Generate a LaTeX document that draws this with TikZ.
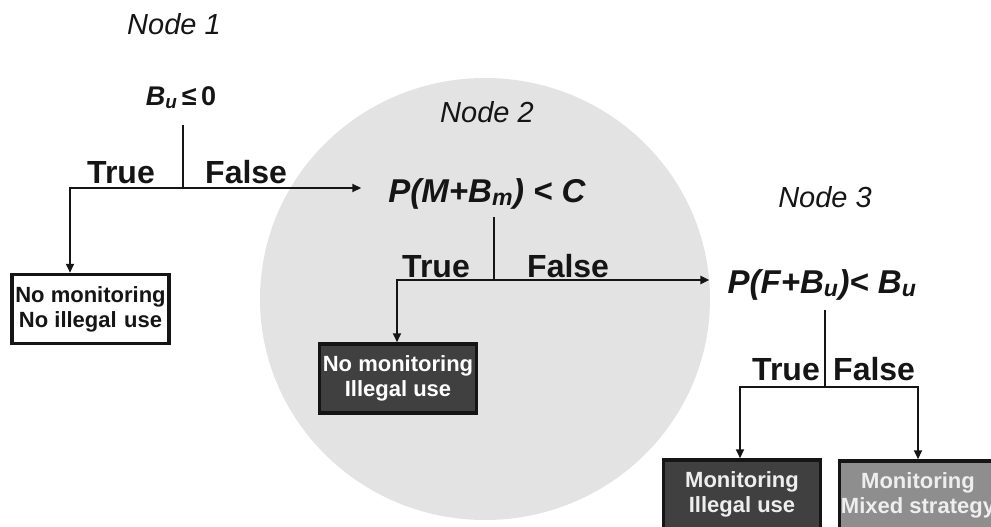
\documentclass[tikz,border=0pt]{standalone}
\usepackage{fontspec}
\setmainfont{Liberation Sans}
\usetikzlibrary{arrows.meta,calc}
\definecolor{circgray}{HTML}{E3E3E3}
\definecolor{darkbox}{HTML}{404040}
\definecolor{midbox}{HTML}{8E8E8E}
\definecolor{lighttext}{HTML}{EEEEEE}
\definecolor{inkblack}{HTML}{151515}
\begin{document}
\begin{tikzpicture}[x=1pt,y=-1pt,
  conn/.style={line width=2pt, draw=inkblack},
  arr/.style={conn, -{Triangle[length=9pt,width=8pt]}},
  cond/.style={font=\fontsize{33}{38}\selectfont\bfseries\itshape, text=inkblack, inner sep=0pt, anchor=base},
  nodelabel/.style={font=\fontsize{29}{34}\selectfont\itshape, text=inkblack, anchor=base, inner sep=0pt},
  tf/.style={font=\fontsize{32}{36}\selectfont\bfseries, text=inkblack, inner sep=0pt},
  outcome/.style={draw=inkblack, line width=3.5pt, minimum width=157pt, minimum height=69pt,
    align=center, font=\fontsize{22}{25}\selectfont\bfseries, inner sep=0pt},
]
\useasboundingbox (0,0) rectangle (991,527);
\clip (0,0) rectangle (991,527);
\fill[circgray] (485,299) ellipse [x radius=225pt, y radius=221pt];

% node labels
\node[nodelabel] (n1) at (174,35) {Node 1};
\node[nodelabel] (n2) at (487,122) {Node 2};
\node[nodelabel] (n3) at (825,207) {Node 3};

% conditions
\node[cond, font=\fontsize{27}{32}\selectfont\bfseries] (c1) at (181,105) {\textit{B}\textsubscript{\textit{u}}\,≤\,0};
\node[cond] (c2) at (487,202) {P(M+B\textsubscript{m}) < C};
\node[cond] (c3) at (822,293) {P(F+B\textsubscript{u})< B\textsubscript{u}};

% outcomes
\node[outcome, fill=white, text=inkblack] (b1) at (90.5,309) {No monitoring\\No illegal\,\,use};
\node[outcome, fill=darkbox, text=white] (b2) at (398,378.5) {No monitoring\\Illegal use};
\node[outcome, fill=darkbox, text=lighttext] (b3) at (742,494.5) {Monitoring\\Illegal use};
\node[outcome, fill=midbox, text=lighttext] (b4) at (918,495.5) {Monitoring\\Mixed strategy};

% junctions
\coordinate (s1) at (183,125);
\coordinate (j1) at (183,188);
\coordinate (k1) at (70,188);
\coordinate (s2) at (494,217);
\coordinate (j2) at (494,280);
\coordinate (k2) at (397,280);
\coordinate (s3) at (825,310);
\coordinate (j3) at (825,387);
\coordinate (k3a) at (740,387);
\coordinate (k3b) at (918,387);

% connectors
\draw[conn] (s1) -- (j1);
\draw[arr] (j1) -- (k1) -- (k1 |- b1.north);
\draw[arr] (j1) -- ($(c2.west |- j1)+(-27,0)$);
\draw[conn] (s2) -- (j2);
\draw[arr] (j2) -- (k2) -- (k2 |- b2.north);
\draw[arr] (j2) -- ($(c3.west |- j2)+(-18,0)$);
\draw[conn] (s3) -- (j3);
\draw[arr] (j3) -- (k3a) -- (k3a |- b3.north);
\draw[arr] (j3) -- (k3b) -- (k3b |- b4.north);

% branch labels
\node[tf, anchor=base east] (t1) at (155,183) {True};
\node[tf, anchor=base west] (f1) at (205,183) {False};
\node[tf, anchor=base east] (t2) at (470,277) {True};
\node[tf, anchor=base west] (f2) at (527,277) {False};
\node[tf, anchor=base east] (t3) at (820,380) {True};
\node[tf, anchor=base west] (f3) at (833,380) {False};
\end{tikzpicture}
\end{document}
